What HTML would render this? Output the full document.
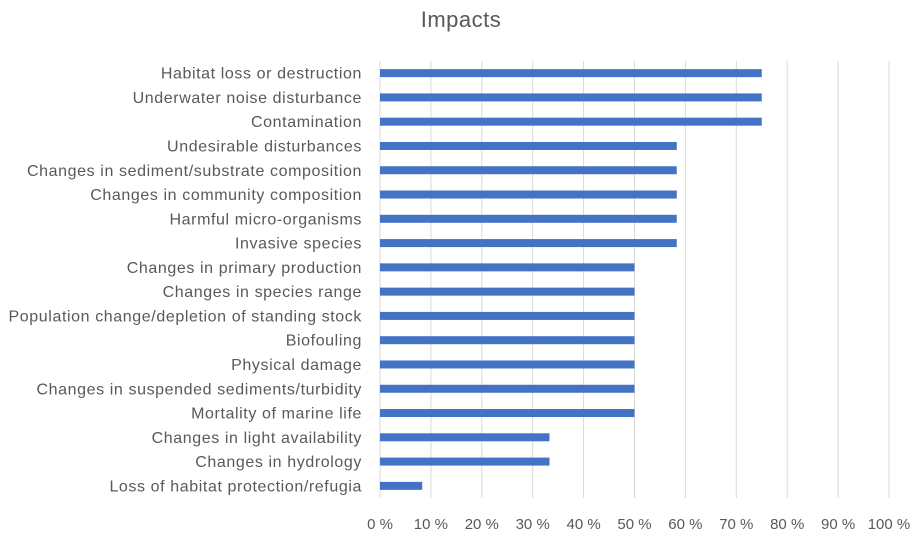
<!DOCTYPE html>
<html><head><meta charset="utf-8"><style>
body{margin:0;background:#fff;}
svg text{font-family:"Liberation Sans",sans-serif;fill:#595959;}
</style></head><body>
<svg id="chart" width="922" height="538" xmlns="http://www.w3.org/2000/svg">
<rect width="922" height="538" fill="#fff"/>
<text x="461" y="27" text-anchor="middle" font-size="22" letter-spacing="0.5">Impacts</text>
<g id="grid"></g><g id="bars"></g><g id="labels"></g><g id="ticks"></g>
</svg>
<script>
const categories=["Habitat loss or destruction","Underwater noise disturbance","Contamination","Undesirable disturbances","Changes in sediment/substrate composition","Changes in community composition","Harmful micro-organisms","Invasive species","Changes in primary production","Changes in species range","Population change/depletion of standing stock","Biofouling","Physical damage","Changes in suspended sediments/turbidity","Mortality of marine life","Changes in light availability","Changes in hydrology","Loss of habitat protection/refugia"];
const values=[75,75,75,58.3,58.3,58.3,58.3,58.3,50,50,50,50,50,50,50,33.3,33.3,8.3];
const tickValues=[0,10,20,30,40,50,60,70,80,90,100];
const tickLabels=["0%","10%","20%","30%","40%","50%","60%","70%","80%","90%","100%"];
const NS="http://www.w3.org/2000/svg";
const x0=380,x1=889,yTop=61,yBot=498;
const xs=v=>x0+(x1-x0)*v/100;
const band=(yBot-yTop)/categories.length;
const ys=i=>yTop+band*(i+0.5);
function mk(t,a,p){const e=document.createElementNS(NS,t);for(const k in a)e.setAttribute(k,a[k]);document.getElementById(p).appendChild(e);return e;}
tickValues.forEach((v,i)=>{
 if(i>0){const l=mk('line',{x1:xs(v),x2:xs(v),y1:yTop,y2:yBot,stroke:'#d9d9d9','stroke-width':1},'grid');
 
 }
 const t=mk('text',{x:xs(v),y:529,'text-anchor':'middle','font-size':15},'ticks');t.textContent=tickLabels[i].replace('%',' %');
 
 
});
const ax=mk('line',{x1:x0,x2:x0,y1:yTop,y2:yBot,stroke:'#d9d9d9'},'grid');


categories.forEach((c,i)=>{
 const r=mk('rect',{x:x0,y:ys(i)-4,width:xs(values[i])-x0,height:8,fill:'#4472c4'},'bars');
 
 
 const t=mk('text',{x:362,y:ys(i)+5.5,'text-anchor':'end','font-size':16,'letter-spacing':0.6},'labels');t.textContent=c;
 
 
});
</script>
</body></html>
